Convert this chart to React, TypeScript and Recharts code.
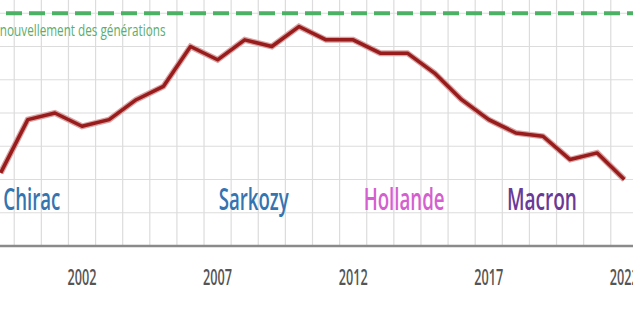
import { LineChart, Line, XAxis, YAxis, CartesianGrid, ReferenceLine, ReferenceDot } from "recharts";

// fertility rate (children per woman), France
const years = [1999, 2000, 2001, 2002, 2003, 2004, 2005, 2006, 2007, 2008, 2009, 2010, 2011, 2012, 2013, 2014, 2015, 2016, 2017, 2018, 2019, 2020, 2021, 2022];
const fertility = [1.81, 1.89, 1.9, 1.88, 1.89, 1.92, 1.94, 2.0, 1.98, 2.01, 2.0, 2.03, 2.01, 2.01, 1.99, 1.99, 1.96, 1.92, 1.89, 1.87, 1.865, 1.83, 1.84, 1.8];

const yearTicks = [2002, 2007, 2012, 2017, 2022];
const gridYears = [1997.5, 1998.5, 1999.5, 2000.5, 2001.5, 2002.5, 2003.5, 2004.5, 2005.5, 2006.5, 2007.5, 2008.5, 2009.5, 2010.5, 2011.5, 2012.5, 2013.5, 2014.5, 2015.5, 2016.5, 2017.5, 2018.5, 2019.5, 2020.5, 2021.5, 2022.5, 2023.5];
const rateTicks = [1.7, 1.75, 1.8, 1.85, 1.9, 1.95, 2.0, 2.05, 2.1];

const replacementRate = 2.05;
const replacementLabel = "renouvellement des générations";

const presidents = ["Chirac", "Sarkozy", "Hollande", "Macron"];
const presidentYears = [2000.15, 2008.33, 2013.88, 2018.96];
const presidentLabelLevel = 1.754;

const PRESIDENT_COLORS: Record<string, string> = {
  Chirac: "#3474b0",
  Sarkozy: "#3474b0",
  Hollande: "#d55fd0",
  Macron: "#6a3a98",
};
const LABEL_WIDTHS: Record<string, number> = { Chirac: 57, Sarkozy: 70, Hollande: 81, Macron: 70 };

const data = years.map((y, i) => ({ year: y, rate: fertility[i] }));

const YearTick = (props: any) => {
  const { x, y, payload } = props;
  return (
    <text
      x={x}
      y={y + 31}
      textAnchor="middle"
      fontSize={21}
      fontWeight={600}
      fill="#555"
      textLength={29}
      lengthAdjust="spacingAndGlyphs"
    >
      {payload.value}
    </text>
  );
};

// grid lines sit between years (half-year positions), like the original spreadsheet chart
const toPixel = (scale: any, v: number): number | undefined => {
  if (!scale) return undefined;
  if (typeof scale === "function") return scale(v);
  if (typeof scale.map === "function") return scale.map(v);
  if (typeof scale.apply === "function") return scale.apply(v);
  if (typeof scale.scale === "function") return scale.scale(v);
  return undefined;
};

const gridX = ({ xAxis }: any) => {
  const pts = gridYears.map((v) => toPixel(xAxis?.scale, v));
  return pts.filter((p): p is number => typeof p === "number" && Number.isFinite(p));
};

export default function App() {
  return (
    <div
      style={{
        position: "fixed",
        left: 0,
        top: 0,
        width: 633,
        height: 331,
        overflow: "hidden",
        background: "#fff",
        fontFamily: "'Open Sans', sans-serif",
      }}
    >
      <div style={{ position: "absolute", left: -40, top: -20 }}>
        <LineChart width={705} height={326} data={data} margin={{ top: 0, right: 0, bottom: 0, left: 0 }}>
          <CartesianGrid stroke="#dcdcdc" strokeWidth={1.2} verticalCoordinatesGenerator={gridX} />
          <XAxis
            dataKey="year"
            type="number"
            domain={[1997.5, 2023.5]}
            ticks={yearTicks}
            interval={0}
            tick={<YearTick />}
            tickLine={false}
            axisLine={{ stroke: "#8a8a8a", strokeWidth: 2.5 }}
            height={60}
            allowDataOverflow
          />
          <YAxis
            type="number"
            domain={[1.7, 2.1]}
            ticks={rateTicks}
            interval={0}
            tickFormatter={() => ""}
            hide
            allowDataOverflow
          />
          <ReferenceLine y={replacementRate} stroke="#4cb065" strokeWidth={4} strokeDasharray="16 7" />
          <ReferenceDot
            x={1998.55}
            y={2.0155}
            r={0}
            shape={(p: any) => (
              <text
                x={p.cx}
                y={p.cy}
                fontSize={17}
                fontWeight={500}
                fill="#5aae6a"
                textLength={177}
                lengthAdjust="spacingAndGlyphs"
              >
                {replacementLabel}
              </text>
            )}
          />
          {presidents.map((name, i) => (
            <ReferenceDot
              key={name}
              x={presidentYears[i]}
              y={presidentLabelLevel}
              r={0}
              shape={(p: any) => (
                <text
                  x={p.cx}
                  y={p.cy}
                  textAnchor="middle"
                  fontSize={30}
                  fontWeight={600}
                  fill={PRESIDENT_COLORS[name]}
                  textLength={LABEL_WIDTHS[name]}
                  lengthAdjust="spacingAndGlyphs"
                >
                  {name}
                </text>
              )}
            />
          ))}
          <Line
            type="linear"
            dataKey="rate"
            stroke="#d9a3a3"
            strokeWidth={6}
            dot={false}
            activeDot={false}
            isAnimationActive={false}
          />
          <Line
            type="linear"
            dataKey="rate"
            stroke="#981c1c"
            strokeWidth={3.5}
            strokeLinejoin="round"
            dot={false}
            activeDot={false}
            isAnimationActive={false}
          />
        </LineChart>
      </div>
    </div>
  );
}
